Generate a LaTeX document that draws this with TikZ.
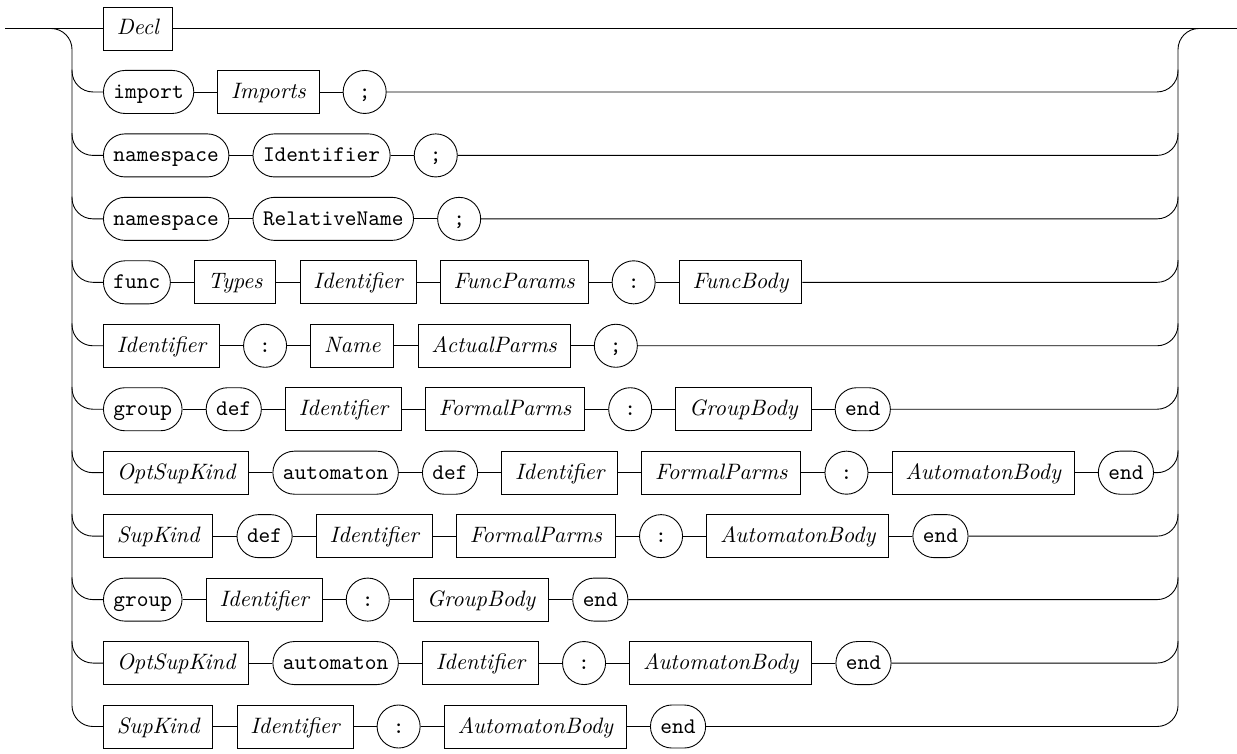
\documentclass[tikz,border=0pt]{standalone}
\usepackage{tikz}
\usetikzlibrary{positioning}

\begin{document}
\begin{tikzpicture}[x=0.4484pt, y=-0.4484pt, node distance=1cm and 10.4pt,
		nt/.style={draw, rectangle, minimum height=19.3pt, inner xsep=6pt, font=\itshape, text height=1.6ex, text depth=.25ex},
		t/.style={draw, rectangle, rounded corners=9.65pt, minimum height=19.3pt, minimum width=19.3pt, inner xsep=4.5pt, font=\ttfamily, text height=1.6ex, text depth=.25ex},
		rail/.style={rounded corners=9.4pt}]
		\useasboundingbox (0,0) rectangle (1237,753);
		
		%Rails
		\coordinate (in) at (5,28.5);
		\coordinate (out) at (1237,28.5);
		\coordinate (lrail) at (72,28.5);
		\coordinate (rrail) at (1178,28.5);
		
		%Nodes
		\node[nt, anchor=west] (11) at (103,28.5) {Decl};
		\node[t] (21) [below=of 11.west, anchor=west] {import};
		\node[nt] (22) [right=of 21] {Imports};
		\node[t] (23) [right=of 22] {;};
		\node[t] (31) [below=of 21.west, anchor=west] {namespace};
		\node[t] (32) [right=of 31] {Identifier};
		\node[t] (33) [right=of 32] {;};
		\node[t] (41) [below=of 31.west, anchor=west] {namespace};
		\node[t] (42) [right=of 41] {RelativeName};
		\node[t] (43) [right=of 42] {;};
		\node[t] (51) [below=of 41.west, anchor=west] {func};
		\node[nt] (52) [right=of 51] {Types};
		\node[nt] (53) [right=of 52] {Identifier};
		\node[nt] (54) [right=of 53] {FuncParams};
		\node[t] (55) [right=of 54] {:};
		\node[nt] (56) [right=of 55] {FuncBody};
		\node[nt] (61) [below=of 51.west, anchor=west] {Identifier};
		\node[t] (62) [right=of 61] {:};
		\node[nt] (63) [right=of 62] {Name};
		\node[nt] (64) [right=of 63] {ActualParms};
		\node[t] (65) [right=of 64] {;};
		\node[t] (71) [below=of 61.west, anchor=west] {group};
		\node[t] (72) [right=of 71] {def};
		\node[nt] (73) [right=of 72] {Identifier};
		\node[nt] (74) [right=of 73] {FormalParms};
		\node[t] (75) [right=of 74] {:};
		\node[nt] (76) [right=of 75] {GroupBody};
		\node[t] (77) [right=of 76] {end};
		\node[nt] (81) [below=of 71.west, anchor=west] {OptSupKind};
		\node[t] (82) [right=of 81] {automaton};
		\node[t] (83) [right=of 82] {def};
		\node[nt] (84) [right=of 83] {Identifier};
		\node[nt] (85) [right=of 84] {FormalParms};
		\node[t] (86) [right=of 85] {:};
		\node[nt] (87) [right=of 86] {AutomatonBody};
		\node[t] (88) [right=of 87] {end};
		\node[nt] (91) [below=of 81.west, anchor=west] {SupKind};
		\node[t] (92) [right=of 91] {def};
		\node[nt] (93) [right=of 92] {Identifier};
		\node[nt] (94) [right=of 93] {FormalParms};
		\node[t] (95) [right=of 94] {:};
		\node[nt] (96) [right=of 95] {AutomatonBody};
		\node[t] (97) [right=of 96] {end};
		\node[t] (101) [below=of 91.west, anchor=west] {group};
		\node[nt] (102) [right=of 101] {Identifier};
		\node[t] (103) [right=of 102] {:};
		\node[nt] (104) [right=of 103] {GroupBody};
		\node[t] (105) [right=of 104] {end};
		\node[nt] (111) [below=of 101.west, anchor=west] {OptSupKind};
		\node[t] (112) [right=of 111] {automaton};
		\node[nt] (113) [right=of 112] {Identifier};
		\node[t] (114) [right=of 113] {:};
		\node[nt] (115) [right=of 114] {AutomatonBody};
		\node[t] (116) [right=of 115] {end};
		\node[nt] (121) [below=of 111.west, anchor=west] {SupKind};
		\node[nt] (122) [right=of 121] {Identifier};
		\node[t] (123) [right=of 122] {:};
		\node[nt] (124) [right=of 123] {AutomatonBody};
		\node[t] (125) [right=of 124] {end};
		
		%Lines
		\draw (in) -- (11);
		\draw (11) -- (out);
		\draw (21) -- (22);
		\draw (22) -- (23);
		\draw (31) -- (32);
		\draw (32) -- (33);
		\draw (41) -- (42);
		\draw (42) -- (43);
		\draw (51) -- (52);
		\draw (52) -- (53);
		\draw (53) -- (54);
		\draw (54) -- (55);
		\draw (55) -- (56);
		\draw (61) -- (62);
		\draw (62) -- (63);
		\draw (63) -- (64);
		\draw (64) -- (65);
		\draw (71) -- (72);
		\draw (72) -- (73);
		\draw (73) -- (74);
		\draw (74) -- (75);
		\draw (75) -- (76);
		\draw (76) -- (77);
		\draw (81) -- (82);
		\draw (82) -- (83);
		\draw (83) -- (84);
		\draw (84) -- (85);
		\draw (85) -- (86);
		\draw (86) -- (87);
		\draw (87) -- (88);
		\draw (91) -- (92);
		\draw (92) -- (93);
		\draw (93) -- (94);
		\draw (94) -- (95);
		\draw (95) -- (96);
		\draw (96) -- (97);
		\draw (101) -- (102);
		\draw (102) -- (103);
		\draw (103) -- (104);
		\draw (104) -- (105);
		\draw (111) -- (112);
		\draw (112) -- (113);
		\draw (113) -- (114);
		\draw (114) -- (115);
		\draw (115) -- (116);
		\draw (121) -- (122);
		\draw (122) -- (123);
		\draw (123) -- (124);
		\draw (124) -- (125);
		
		%Branches
		\draw[rail] (in) -- (lrail) |- (121.west);
		\draw[rail] (21.west) -| ([yshift=10pt]lrail |- 21.west);
		\draw[rail] (31.west) -| ([yshift=10pt]lrail |- 31.west);
		\draw[rail] (41.west) -| ([yshift=10pt]lrail |- 41.west);
		\draw[rail] (51.west) -| ([yshift=10pt]lrail |- 51.west);
		\draw[rail] (61.west) -| ([yshift=10pt]lrail |- 61.west);
		\draw[rail] (71.west) -| ([yshift=10pt]lrail |- 71.west);
		\draw[rail] (81.west) -| ([yshift=10pt]lrail |- 81.west);
		\draw[rail] (91.west) -| ([yshift=10pt]lrail |- 91.west);
		\draw[rail] (101.west) -| ([yshift=10pt]lrail |- 101.west);
		\draw[rail] (111.west) -| ([yshift=10pt]lrail |- 111.west);
		\draw[rail] (125.east) -| (rrail) -- (out);
		\draw[rail] (23.east) -| ([yshift=10pt]rrail |- 23.east);
		\draw[rail] (33.east) -| ([yshift=10pt]rrail |- 33.east);
		\draw[rail] (43.east) -| ([yshift=10pt]rrail |- 43.east);
		\draw[rail] (56.east) -| ([yshift=10pt]rrail |- 56.east);
		\draw[rail] (65.east) -| ([yshift=10pt]rrail |- 65.east);
		\draw[rail] (77.east) -| ([yshift=10pt]rrail |- 77.east);
		\draw[rail] (88.east) -| ([yshift=10pt]rrail |- 88.east);
		\draw[rail] (97.east) -| ([yshift=10pt]rrail |- 97.east);
		\draw[rail] (105.east) -| ([yshift=10pt]rrail |- 105.east);
		\draw[rail] (116.east) -| ([yshift=10pt]rrail |- 116.east);
	\end{tikzpicture}
\end{document}
